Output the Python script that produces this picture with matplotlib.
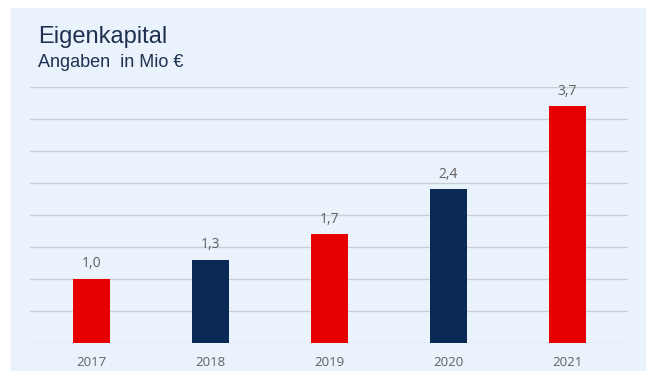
import numpy as np
import matplotlib.pyplot as plt
from matplotlib.patches import Rectangle

years = ['2017', '2018', '2019', '2020', '2021']
equity = [1.0, 1.3, 1.7, 2.4, 3.7]
bar_colors = ['#e60000', '#0a2a55', '#e60000', '#0a2a55', '#e60000']
value_labels = ['1,0', '1,3', '1,7', '2,4', '3,7']

fig = plt.figure(figsize=(6.46, 3.71), dpi=100, facecolor='white')

# light blue panel behind the chart
fig.patches.append(Rectangle((11/646, 0), 1 - 11/646, 1 - 8/371,
                             transform=fig.transFigure, color='#eaf2fc', zorder=0))

ax = fig.add_axes([30/646, (371-343)/371, 598/646, 256/371])
ax.set_facecolor('none')
ax.set_zorder(2)

x = np.arange(len(years))
bars = ax.bar(x, equity, 0.31, color=bar_colors, zorder=3)

ax.set_ylim(0, 4)
ax.set_xlim(-0.52, 4.51)
ax.set_yticks(np.arange(0, 4.01, 0.5))
ax.yaxis.grid(True, color='#cbcfd4', linewidth=1)
ax.set_axisbelow(True)
ax.tick_params(axis='y', left=False, labelleft=False)
ax.tick_params(axis='x', length=0, pad=9, labelsize=9.5, labelcolor='#606060')
ax.set_xticks(x)
ax.set_xticklabels(years, family='Open Sans')
for s in ax.spines.values():
    s.set_visible(False)

for rect, lab in zip(bars, value_labels):
    ax.text(rect.get_x() + rect.get_width()/2, rect.get_height() + 0.12, lab,
            ha='center', va='bottom', fontsize=10, color='#606060', family='Open Sans')

fig.text(38/646, 1 - 43/371, 'Eigenkapital', fontsize=17, color='#1f3050',
         family='Liberation Sans', zorder=3)
fig.text(38/646, 1 - 67/371, 'Angaben  in Mio €', fontsize=13, color='#1f3050',
         family='Liberation Sans', zorder=3)

fig.savefig('out.png', dpi=100, facecolor=fig.get_facecolor())
